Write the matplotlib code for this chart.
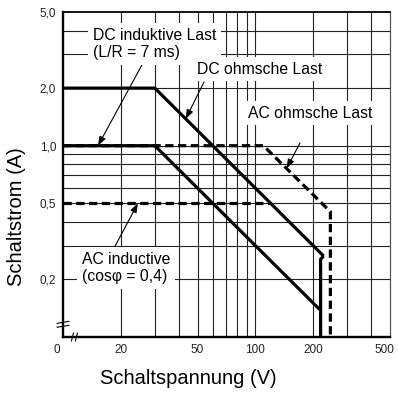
import matplotlib
matplotlib.use("Agg")
import matplotlib.pyplot as plt
from matplotlib.transforms import ScaledTranslation

plt.rcParams['font.family'] = ['Liberation Sans', 'DejaVu Sans']

# ---- data ----
dc_ohm_v = [10, 30, 226]
dc_ohm_i = [2.0, 2.0, 0.265]
dc_cut_v = [226, 218, 218]
dc_cut_i = [0.265, 0.255, 0.1]
dc_ind_v = [10, 30, 216]
dc_ind_i = [1.0, 1.0, 0.139]
ac_ohm_v = [10, 110, 245, 245]
ac_ohm_i = [1.0, 1.0, 0.452, 0.1]
ac_ind_v = [10, 120]
ac_ind_i = [0.5, 0.5]

x_ticks = [10, 20, 50, 100, 200, 500]
x_ticklabels = ["0", "20", "50", "100", "200", "500"]
y_ticks = [0.2, 0.5, 1.0, 2.0, 5.0]
y_ticklabels = ["0,2", "0,5", "1,0", "2,0", "5,0"]
grid_v = [20, 30, 40, 50, 60, 70, 80, 90, 100, 200, 300, 400]
grid_h = [0.2, 0.3, 0.4, 0.5, 0.6, 0.7, 0.8, 0.9, 1.0, 2.0, 3.0, 4.0]

# annotation targets (points on the curves)
ann_dc_ind = (15.2, 1.0)
ann_dc_ohm = (43.4, 1.38)
ann_ac_ohm = (145, 0.76)
ann_ac_ind = (24.5, 0.5)

W, H = 398, 394
fig = plt.figure(figsize=(W / 100, H / 100), dpi=100)
L, R, T, B = 63, 390, 12, 337
ax = fig.add_axes([L / W, 1 - B / H, (R - L) / W, (B - T) / H])
ax.set_xscale('log')
ax.set_yscale('log')
ax.set_xlim(10, 500)
ax.set_ylim(0.1, 5.0)

for v in grid_v:
    ax.axvline(v, color='#222222', lw=0.8, zorder=1)
for h in grid_h:
    ax.axhline(h, color='#222222', lw=0.8, zorder=1)

lw = 2.3
ax.plot(dc_ohm_v, dc_ohm_i, color='black', lw=lw, zorder=4, solid_capstyle='butt')
ax.plot(dc_cut_v, dc_cut_i, color='black', lw=lw, zorder=4, solid_capstyle='butt')
ax.plot(dc_ind_v, dc_ind_i, color='black', lw=lw, zorder=4, solid_capstyle='butt')
ax.plot(ac_ohm_v, ac_ohm_i, color='black', lw=lw, zorder=4, dashes=(2.6, 1.4))
ax.plot(ac_ind_v, ac_ind_i, color='black', lw=lw, zorder=4, dashes=(2.6, 1.4))

ax.set_xticks(x_ticks)
ax.set_xticklabels(x_ticklabels)
ax.set_yticks(y_ticks)
ax.set_yticklabels(y_ticklabels)
ax.minorticks_off()
ax.tick_params(axis='both', length=0, labelsize=8.5, labelcolor='#222222')
ax.tick_params(axis='x', pad=5)
ax.tick_params(axis='y', pad=5)
xl = ax.get_xticklabels()
xl[0].set_transform(xl[0].get_transform() + ScaledTranslation(-6 / 100, 0, fig.dpi_scale_trans))
xl[-1].set_transform(xl[-1].get_transform() + ScaledTranslation(-6 / 100, 0, fig.dpi_scale_trans))

ax.spines['left'].set_linewidth(1.7)
ax.spines['bottom'].set_linewidth(1.7)
ax.spines['top'].set_linewidth(1.3)
ax.spines['right'].set_linewidth(0.9)
ax.spines['right'].set_color('#555555')

# axis break marks
ax.plot([-0.018, 0.018], [0.030, 0.036], transform=ax.transAxes, color='black', lw=0.8, clip_on=False, zorder=6)
ax.plot([-0.018, 0.018], [0.042, 0.048], transform=ax.transAxes, color='black', lw=0.8, clip_on=False, zorder=6)
ax.plot([0.026, 0.032], [-0.012, 0.012], transform=ax.transAxes, color='black', lw=0.8, clip_on=False, zorder=6)
ax.plot([0.038, 0.044], [-0.012, 0.012], transform=ax.transAxes, color='black', lw=0.8, clip_on=False, zorder=6)

box = dict(facecolor='white', edgecolor='none', boxstyle='square,pad=0.3')
fs = 11.3

def fp(x, y):
    return (x / W, 1 - y / H)

fig.text(*fp(93, 44), "DC induktive Last\n(L/R = 7 ms)", fontsize=fs, ha='left', va='center',
         bbox=box, zorder=3, linespacing=1.15)
fig.text(*fp(197, 69), "DC ohmsche Last", fontsize=fs, ha='left', va='center', bbox=box, zorder=3)
fig.text(*fp(248, 113), "AC ohmsche Last", fontsize=fs, ha='left', va='center', bbox=box, zorder=3)
fig.text(*fp(82, 268), "AC inductive\n(cos\u03c6 = 0,4)", fontsize=fs, ha='left', va='center',
         bbox=box, zorder=3, linespacing=1.15)

arrow = dict(arrowstyle='-|>,head_length=0.55,head_width=0.2', color='black', lw=0.8,
             shrinkA=0, shrinkB=0)
for tgt, tail in [(ann_dc_ind, (143, 63)), (ann_dc_ohm, (204, 82)),
                  (ann_ac_ohm, (300, 143)), (ann_ac_ind, (113, 250))]:
    ax.annotate('', xy=tgt, xycoords='data', xytext=(tail[0], H - tail[1]),
                textcoords='figure pixels', arrowprops=arrow, zorder=5)

fig.text(*fp(17, 217), "Schaltstrom (A)", fontsize=14.5, rotation=90, ha='center', va='center')
fig.text(*fp(188, 378), "Schaltspannung (V)", fontsize=14.5, ha='center', va='center')

fig.savefig('out.png', dpi=100)
